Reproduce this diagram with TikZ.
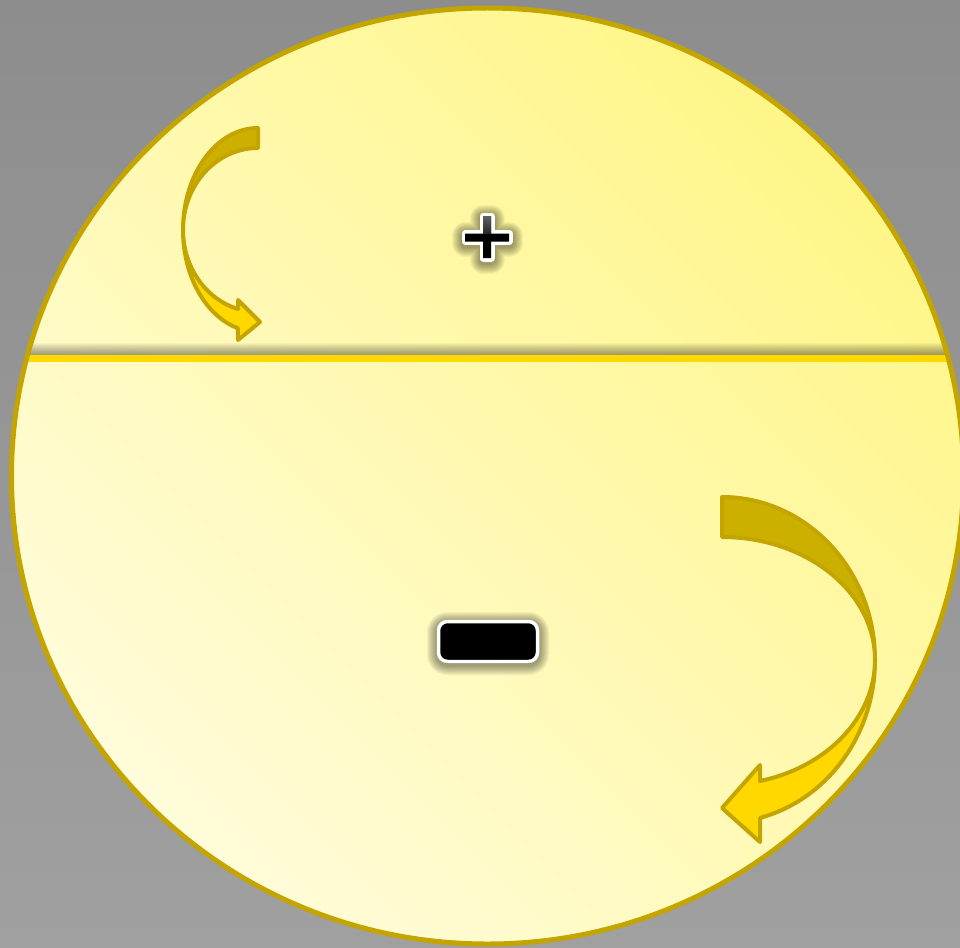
\documentclass[tikz,border=0pt]{standalone}
\definecolor{bgTop}{HTML}{8D8D8D}
\definecolor{bgBot}{HTML}{A0A0A0}
\definecolor{rim}{HTML}{C4A500}
\definecolor{fillLight}{HTML}{FFFCDA}
\definecolor{fillYellow}{HTML}{FFF688}
\definecolor{darkgold}{HTML}{CCB000}
\definecolor{gold}{HTML}{FFD800}
\tikzset{
  arrowback/.style={fill=darkgold, draw=rim, line width=4, line join=round},
  arrowfront/.style={fill=gold, draw=rim, line width=4, line join=round},
  glow/.style={draw=black, fill=black, opacity=0.045, line join=round}
}
\begin{document}
\begin{tikzpicture}[x=1pt,y=-1pt]
\useasboundingbox (0,0) rectangle (960,947);
\clip (0,0) rectangle (960,947);
% background
\shade[top color=bgTop, bottom color=bgBot] (0,0) rectangle (960,947);
% disc
\shade[top color=fillYellow, bottom color=fillLight, shading angle=-45]
  (487.5,476) ellipse [x radius=476, y radius=468];
\begin{scope}
  \clip (487.5,476) ellipse [x radius=476, y radius=468];
  \foreach \k in {1,...,12} {
    \fill[black, opacity=0.035] (0,355-\k) rectangle (960,355);
  }
  \fill[gold] (0,355) rectangle (960,361.5);
\end{scope}
\draw[rim, line width=5] (487.5,476) ellipse [x radius=476, y radius=468];
% top-left curved arrow
\filldraw[arrowback] (258,128) arc[start angle=-90, end angle=-180, x radius=75, y radius=102]
  arc[start angle=180, end angle=270, x radius=75, y radius=82] -- cycle;
\filldraw[arrowfront] (183,230) arc[start angle=180, end angle=105.5, x radius=75, y radius=102]
  -- (238,340) -- (260,322) -- (238,300) -- (238,309)
  arc[start angle=105.5, end angle=180, x radius=75, y radius=82] -- cycle;
% right curved arrow
\filldraw[arrowback] (722,497) arc[start angle=-90, end angle=0, x radius=153, y radius=163]
  arc[start angle=0, end angle=-90, x radius=153, y radius=123] -- cycle;
\filldraw[arrowfront] (875,660) arc[start angle=0, end angle=75.6, x radius=153, y radius=163]
  -- (760,842) -- (722,808) -- (760,765) -- (760,781)
  arc[start angle=75.6, end angle=0, x radius=153, y radius=125] -- cycle;
% plus sign
\def\plusshape{(483,216) -- (491,216) -- (491,233.5) -- (509,233.5) -- (509,241.5) -- (491,241.5)
  -- (491,258) -- (483,258) -- (483,241.5) -- (465,241.5) -- (465,233.5) -- (483,233.5) -- cycle}
\begin{scope}[yshift=-2pt]
  \foreach \k in {1,...,10} {
    \filldraw[glow, line width=7+2*\k] \plusshape;
  }
\end{scope}
\filldraw[draw=white, fill=white, line width=7, line join=round] \plusshape;
\fill[black] \plusshape;
\shade[top color=black!62, bottom color=black!85] (483,216) rectangle (491,233.5);
% minus sign
\begin{scope}[yshift=-2pt]
  \foreach \k in {1,...,10} {
    \filldraw[glow, line width=3.5+2*\k, rounded corners=9] (438.5,621.5) rectangle (537.5,661.5);
  }
\end{scope}
\filldraw[draw=white, fill=black, line width=3.5, rounded corners=9]
  (438.5,621.5) rectangle (537.5,661.5);
\end{tikzpicture}
\end{document}
